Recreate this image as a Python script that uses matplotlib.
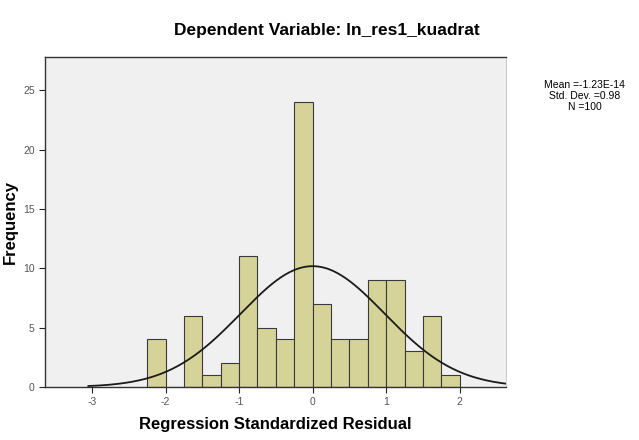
import numpy as np
import matplotlib.pyplot as plt

plt.rcParams['font.family'] = ['Liberation Sans', 'DejaVu Sans']
plt.rcParams['axes.unicode_minus'] = False

# histogram of regression standardized residuals
bin_edges = [-2.25, -2.0, -1.75, -1.5, -1.25, -1.0, -0.75, -0.5, -0.25, 0.0,
             0.25, 0.5, 0.75, 1.0, 1.25, 1.5, 1.75, 2.0]
counts = [4, 0, 6, 1, 2, 11, 5, 4, 24, 7, 4, 4, 9, 9, 3, 6, 1]
mean = -1.23e-14
std = 0.98
n = 100

x_ticks = [-3, -2, -1, 0, 1, 2]
y_ticks = [0, 5, 10, 15, 20, 25]

fig = plt.figure(figsize=(6.39, 4.40), dpi=100)
ax = fig.add_axes([0.0704, 0.1205, 0.7215, 0.75])
ax.set_facecolor('#f0f0f0')

lefts = np.array(bin_edges[:-1])
widths = np.diff(bin_edges)
ax.bar(lefts, counts, width=widths, align='edge', color='#d6d398',
       edgecolor='#3a3a3a', linewidth=0.8)

# normal curve
bw = widths[0]
xs = np.linspace(-3.05, 2.63, 300)
ys = n * bw / (std * np.sqrt(2 * np.pi)) * np.exp(-0.5 * ((xs - mean) / std) ** 2)
ax.plot(xs, ys, color='#1a1a1a', linewidth=1.3)

ax.set_xlim(-3.64, 2.63)
ax.set_ylim(0, 27.8)
ax.set_xticks(x_ticks)
ax.set_yticks(y_ticks)
ax.tick_params(labelsize=7.5, colors='#222222', length=4, width=0.8,
               labelcolor='#555555')

for s in ['left', 'bottom', 'top']:
    ax.spines[s].set_color('#333333')
    ax.spines[s].set_linewidth(1.0)
ax.spines['right'].set_color('#cccccc')

ax.set_xlabel('Regression Standardized Residual', fontsize=12,
              fontweight='bold', labelpad=7)
ax.set_ylabel('Frequency', fontsize=12, fontweight='bold', labelpad=4)

fig.text(0.512, 0.93, 'Dependent Variable: ln_res1_kuadrat', fontsize=12.5,
         fontweight='bold', ha='center', va='center')
fig.text(0.915, 0.782, 'Mean =-1.23E-14\nStd. Dev. =0.98\nN =100',
         fontsize=7.5, ha='center', va='center', linespacing=1.15)

fig.savefig('out.png', dpi=100)
